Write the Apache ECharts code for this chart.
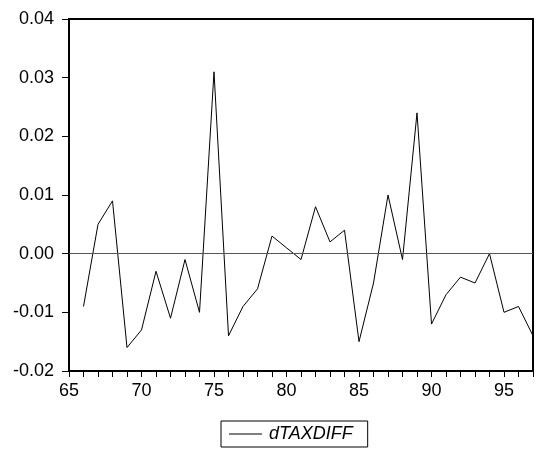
<!DOCTYPE html>
<html><head><meta charset="utf-8">
<script src="https://cdn.jsdelivr.net/npm/echarts@6/dist/echarts.min.js"></script>
<style>html,body{margin:0;padding:0;background:#fff}#c{width:536px;height:452px}</style>
</head><body><div id="c"></div>
<script>
const years = [66,67,68,69,70,71,72,73,74,75,76,77,78,79,80,81,82,83,84,85,86,87,88,89,90,91,92,93,94,95,96,97];
const dTAXDIFF = [-0.009,0.005,0.009,-0.016,-0.013,-0.003,-0.011,-0.001,-0.010,0.031,-0.014,-0.009,-0.006,0.003,0.001,-0.001,0.008,0.002,0.004,-0.015,-0.005,0.010,-0.001,0.024,-0.012,-0.007,-0.004,-0.005,0.000,-0.010,-0.009,-0.014];
const seriesName = 'dTAXDIFF';

const chart = echarts.init(document.getElementById('c'), null, {renderer:'canvas'});
const font = 'Liberation Sans, Arial, sans-serif';
chart.setOption({
  animation: false,
  textStyle: {fontFamily: font},
  grid: {left: 69, right: 1, top: 19, bottom: 81, show: true, borderColor: '#000', borderWidth: 2, backgroundColor: 'transparent'},
  xAxis: {
    type: 'value', min: 65, max: 97, interval: 1,
    axisLine: {show: false, onZero: false},
    axisTick: {show: true, inside: false, length: 6, lineStyle: {color: '#000', width: 1}},
    axisLabel: {color: '#000', fontSize: 18, fontFamily: font, margin: 11,
      formatter: v => (v % 5 === 0 ? String(v) : '')},
    splitLine: {show: false}
  },
  yAxis: {
    type: 'value', min: -0.02, max: 0.04, interval: 0.01,
    axisLine: {show: false, onZero: false},
    axisTick: {show: true, inside: false, length: 7, lineStyle: {color: '#000', width: 1}},
    axisLabel: {color: '#000', fontSize: 18, fontFamily: font, margin: 15,
      formatter: v => v.toFixed(2)},
    splitLine: {show: false}
  },
  legend: {
    show: true, left: 221, top: 421,
    orient: 'horizontal',
    borderColor: '#000', borderWidth: 1, padding: [4, 15, 4, 8],
    icon: 'rect', itemWidth: 33, itemHeight: 1, itemGap: 6,
    textStyle: {fontSize: 18, fontStyle: 'italic', color: '#000', fontFamily: font, padding: [0, 0, 0, 2]},
    data: [seriesName]
  },
  series: [{
    name: seriesName, type: 'line',
    data: years.map((y, i) => [y, dTAXDIFF[i]]),
    symbol: 'none',
    lineStyle: {color: '#000', width: 1},
    itemStyle: {color: '#000'},
    markLine: {
      silent: true, symbol: ['none', 'none'], label: {show: false},
      lineStyle: {color: '#555', width: 1, type: 'solid'},
      data: [{yAxis: 0}]
    },
    z: 3
  }]
});
</script></body></html>
